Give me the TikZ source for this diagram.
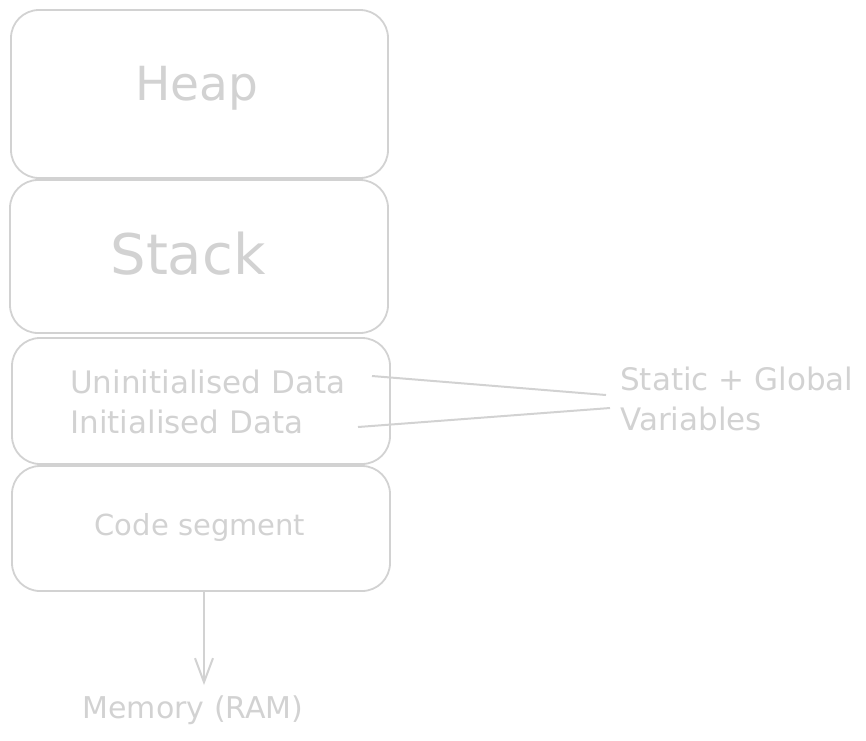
\documentclass[tikz,border=0pt]{standalone}
\usepackage{fontspec}
\setmainfont{DejaVu Sans}
\usepackage{tikz}
\usetikzlibrary{arrows.meta}
\definecolor{sketch}{RGB}{210,210,210}

\begin{document}
\begin{tikzpicture}[x=1pt,y=-1pt,
    segbox/.style={draw=sketch, line width=1.8pt, rounded corners=28pt, inner sep=0pt},
    bigtxt/.style={text=sketch, font=\fontsize{47}{47}\selectfont, inner sep=0pt},
    smalltxt/.style={text=sketch, font=\fontsize{29}{40}\selectfont, inner sep=0pt},
    link/.style={draw=sketch, line width=2pt}]
        \useasboundingbox (0,0) rectangle (866,740);

        % Segmentos da memoria
        \node[segbox, minimum width=377pt, minimum height=168pt] (heap) at (199.5,94) {};
        \node[segbox, minimum width=378pt, minimum height=153pt] (stack) at (199,256.5) {};
        \node[segbox, minimum width=378pt, minimum height=126pt] (data) at (201,401) {};
        \node[segbox, minimum width=378pt, minimum height=125pt] (code) at (201,528.5) {};

        % Textos dos segmentos
        \node[bigtxt] (heaptxt) at (197,88) {Heap};
        \node[bigtxt, font=\fontsize{56}{56}\selectfont] (stacktxt) at (188,254) {Stack};
        \node[smalltxt, anchor=west, font=\fontsize{31}{40}\selectfont] (uninit) at (70,382) {Uninitialised Data};
        \node[smalltxt, anchor=west, font=\fontsize{31}{40}\selectfont] (init) at (70,422) {Initialised Data};
        \node[smalltxt] (codetxt) at (200,527) {Code segment};

        % Variaveis estaticas e globais
        \node[smalltxt, anchor=west, align=left, font=\fontsize{31}{40}\selectfont] (vars) at (620,399) {Static + Global\\Variables};
        \coordinate (u1) at (372,376);
        \coordinate (v1) at (606,395);
        \coordinate (i1) at (358,427);
        \coordinate (v2) at (610,408);
        \draw[link] (u1) -- (v1);
        \draw[link] (i1) -- (v2);

        % Seta para a memoria
        \node[smalltxt, font=\fontsize{30}{40}\selectfont] (ram) at (193,710) {Memory (RAM)};
        \draw[link, -{Straight Barb[length=24pt,width=18pt]}] (code.south -| 204,0) -- (204,685);
    \end{tikzpicture}
\end{document}
